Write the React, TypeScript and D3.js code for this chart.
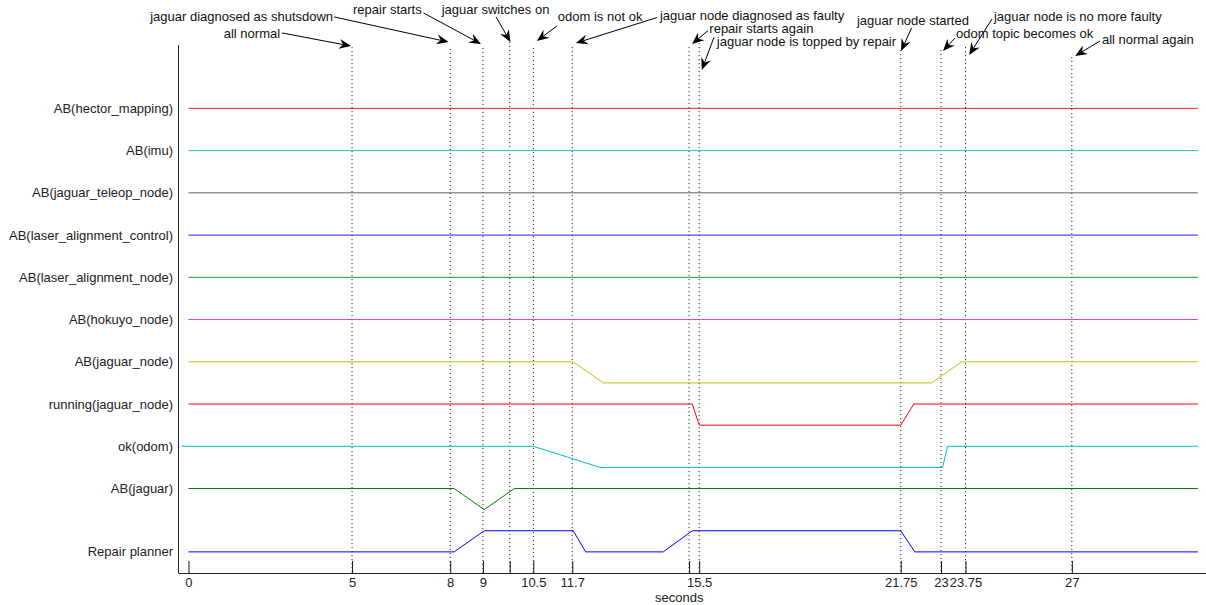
import React, { useEffect, useRef } from "react";
import * as d3 from "d3";

// ---- data ----
const seriesNames = [
  "AB(hector_mapping)",
  "AB(imu)",
  "AB(jaguar_teleop_node)",
  "AB(laser_alignment_control)",
  "AB(laser_alignment_node)",
  "AB(hokuyo_node)",
  "AB(jaguar_node)",
  "running(jaguar_node)",
  "ok(odom)",
  "AB(jaguar)",
  "Repair planner",
];
const seriesBase = [21, 19, 17, 15, 13, 11, 9, 7, 5, 3, 0];
const seriesColors = [
  "#ff2020", "#20bfbf", "#606060", "#2020ff", "#209a20", "#d040d0",
  "#bfbf00", "#ff0000", "#00bfbf", "#008000", "#0000ff",
];

const abHectorMapping: [number, number][] = [[0, 21], [30.85, 21]];
const abImu: [number, number][] = [[0, 19], [30.85, 19]];
const abJaguarTeleop: [number, number][] = [[0, 17], [30.85, 17]];
const abLaserControl: [number, number][] = [[0, 15], [30.85, 15]];
const abLaserNode: [number, number][] = [[0, 13], [30.85, 13]];
const abHokuyo: [number, number][] = [[0, 11], [30.85, 11]];
const abJaguarNode: [number, number][] = [[0, 9], [11.76, 9], [12.68, 8], [22.71, 8], [23.63, 9], [30.85, 9]];
const runningJaguarNode: [number, number][] = [[0, 7], [15.4, 7], [15.61, 6], [21.77, 6], [22.17, 7], [30.85, 7]];
const okOdom: [number, number][] = [[-0.2, 5], [10.54, 5], [12.58, 4], [23.05, 4], [23.2, 5], [30.85, 5]];
const abJaguar: [number, number][] = [[0, 3], [8.12, 3], [9.04, 2], [9.96, 3], [30.85, 3]];
const repairPlanner: [number, number][] = [
  [0, 0], [8.12, 0], [9.04, 1], [11.76, 1], [12.14, 0], [14.51, 0],
  [15.4, 1], [21.77, 1], [22.2, 0], [30.85, 0],
];
const seriesData = [
  abHectorMapping, abImu, abJaguarTeleop, abLaserControl, abLaserNode, abHokuyo,
  abJaguarNode, runningJaguarNode, okOdom, abJaguar, repairPlanner,
];

const eventTimes = [5, 8, 9, 9.82, 10.54, 11.73, 15.3, 15.61, 21.77, 23, 23.75, 27];
const eventTops = [23.9, 23.81, 23.86, 24.14, 23.86, 23.9, 23.9, 24.09, 23.76, 23.76, 23.9, 23.43];

const tickValues = [0, 5, 8, 9, 9.82, 10.54, 11.73, 15.3, 15.61, 21.77, 23, 23.75, 27];
const tickLabels = ["0", "5", "8", "9", "", "10.5", "11.7", "", "15.5", "21.75", "23", "23.75", "27"];

// annotation: text, text pos (t,v), anchor, arrow tail (t,v), arrow head (t,v)
const annotations = [
  { text: "all normal", t: 2.8, v: 24.57, anchor: "end", tailT: 2.86, tailV: 24.57, headT: 4.97, headV: 23.95 },
  { text: "jaguar diagnosed as shutsdown", t: 4.42, v: 25.33, anchor: "end", tailT: 4.45, tailV: 25.33, headT: 7.95, headV: 24.14 },
  { text: "repair starts", t: 5.03, v: 25.66, anchor: "start", tailT: 7.18, tailV: 25.52, headT: 8.94, headV: 24.05 },
  { text: "jaguar switches on", t: 7.74, v: 25.66, anchor: "start", tailT: 9.4, tailV: 25.33, headT: 9.84, headV: 24.14 },
  { text: "odom is not ok", t: 11.29, v: 25.37, anchor: "start", tailT: 11.26, tailV: 24.9, headT: 10.65, headV: 24.19 },
  { text: "jaguar node diagnosed as faulty", t: 14.41, v: 25.4, anchor: "start", tailT: 14.32, tailV: 25.3, headT: 11.84, headV: 24.09 },
  { text: "repair starts again", t: 15.92, v: 24.79, anchor: "start", tailT: 15.88, tailV: 24.68, headT: 15.39, headV: 24.05 },
  { text: "jaguar node is topped by repair", t: 16.15, v: 24.15, anchor: "start", tailT: 16.06, tailV: 24.36, headT: 15.69, headV: 22.82 },
  { text: "jaguar node started", t: 20.43, v: 25.18, anchor: "start", tailT: 22.1, tailV: 24.8, headT: 21.78, headV: 23.72 },
  { text: "jaguar node is no more faulty", t: 24.62, v: 25.33, anchor: "start", tailT: 24.56, tailV: 25.23, headT: 23.86, headV: 23.53 },
  { text: "odom topic becomes ok", t: 23.46, v: 24.57, anchor: "start", tailT: 23.43, tailV: 24.33, headT: 23.06, headV: 23.72 },
  { text: "all normal again", t: 27.92, v: 24.24, anchor: "start", tailT: 27.86, tailV: 24.19, headT: 27.1, headV: 23.48 },
];

const xDomain = [-0.32, 31.1];
const yDomain = [-1, 24];
const xAxisLabel = "seconds";

const W = 1206;
const H = 605;
const FONT = "'Liberation Sans', Arial, sans-serif";

export default function App() {
  const ref = useRef<SVGSVGElement | null>(null);

  useEffect(() => {
    const svg = d3.select(ref.current);
    svg.selectAll("*").remove();

    const x = d3.scaleLinear().domain(xDomain).range([178, 1206]);
    const y = d3.scaleLinear().domain(yDomain).range([573, 45]);

    // event dotted lines
    svg.append("g")
      .selectAll("line")
      .data(eventTimes)
      .join("line")
      .attr("x1", (d) => x(d))
      .attr("x2", (d) => x(d))
      .attr("y1", (d, i) => y(eventTops[i]))
      .attr("y2", y(yDomain[0]))
      .attr("stroke", "#111")
      .attr("stroke-width", 1)
      .attr("stroke-dasharray", "1 3");

    // series lines
    const line = d3.line<[number, number]>().x((d) => x(d[0])).y((d) => y(d[1]));
    svg.append("g")
      .selectAll("path")
      .data(seriesData)
      .join("path")
      .attr("d", (d) => line(d))
      .attr("fill", "none")
      .attr("stroke", (d, i) => seriesColors[i])
      .attr("stroke-width", 1);

    // y labels
    svg.append("g")
      .selectAll("text")
      .data(seriesNames)
      .join("text")
      .attr("x", 173)
      .attr("y", (d, i) => y(seriesBase[i]))
      .attr("dy", "0.35em")
      .attr("text-anchor", "end")
      .attr("font-family", FONT)
      .attr("font-size", 13)
      .attr("fill", "#222")
      .text((d) => d);

    // axes
    svg.append("line")
      .attr("x1", x(xDomain[0]) + 0.5).attr("x2", x(xDomain[0]) + 0.5)
      .attr("y1", y(yDomain[1])).attr("y2", y(yDomain[0]))
      .attr("stroke", "#222");

    const xAxis = d3.axisBottom(x)
      .tickValues(tickValues)
      .tickFormat((d, i) => tickLabels[i])
      .tickSizeInner(-12)
      .tickSizeOuter(0)
      .tickPadding(5);
    const gx = svg.append("g").attr("transform", `translate(0,${y(yDomain[0])})`).call(xAxis);
    gx.select(".domain").attr("stroke", "#222");
    gx.selectAll(".tick line").attr("stroke", "#111");
    gx.selectAll(".tick text")
      .attr("font-family", FONT)
      .attr("font-size", 13)
      .attr("fill", "#222");

    svg.append("text")
      .attr("x", x(15))
      .attr("y", 602)
      .attr("text-anchor", "middle")
      .attr("font-family", FONT)
      .attr("font-size", 13)
      .attr("fill", "#222")
      .text(xAxisLabel);

    // annotations
    const ga = svg.append("g");
    annotations.forEach((a) => {
      const x1 = x(a.tailT), y1 = y(a.tailV), x2 = x(a.headT), y2 = y(a.headV);
      const ang = Math.atan2(y2 - y1, x2 - x1);
      const L = 12, Wd = 5, N = 8;
      ga.append("line")
        .attr("x1", x1).attr("y1", y1)
        .attr("x2", x2 - Math.cos(ang) * N).attr("y2", y2 - Math.sin(ang) * N)
        .attr("stroke", "#000").attr("stroke-width", 1);
      ga.append("path")
        .attr("d", `M0,0L${-L},${-Wd}L${-N},0L${-L},${Wd}Z`)
        .attr("transform", `translate(${x2},${y2}) rotate(${(ang * 180) / Math.PI})`)
        .attr("fill", "#000");
      ga.append("text")
        .attr("x", x(a.t))
        .attr("y", y(a.v))
        .attr("dy", "0.35em")
        .attr("text-anchor", a.anchor)
        .attr("font-family", FONT)
        .attr("font-size", 13)
        .attr("fill", "#111")
        .text(a.text);
    });
  }, []);

  return (
    <svg
      ref={ref}
      width={W}
      height={H}
      style={{ position: "absolute", left: 0, top: 0, background: "#fff", display: "block" }}
    />
  );
}
